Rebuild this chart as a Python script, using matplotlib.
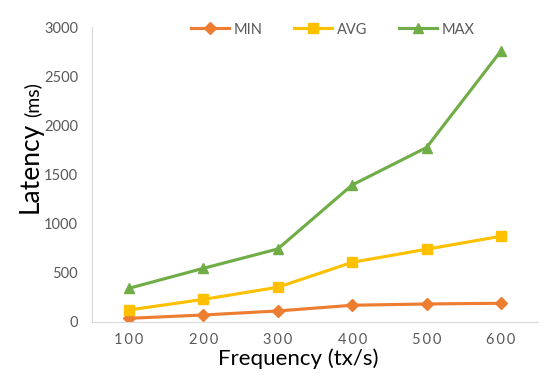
import matplotlib.pyplot as plt
import numpy as np

# data
freq = ['100', '200', '300', '400', '500', '600']
lat_min = [37, 71, 112, 170, 183, 190]
lat_avg = [122, 230, 353, 607, 740, 872]
lat_max = [343, 546, 743, 1394, 1775, 2757]

plt.rcParams['font.family'] = ['Lato', 'DejaVu Sans']

fig = plt.figure(figsize=(5.57, 3.77), dpi=100)
ax = fig.add_axes([0.165, 0.146, 0.801, 0.782])

x = np.arange(len(freq))
ax.plot(x, lat_min, color='#ED7D31', lw=2.25, marker='D', ms=6, label='MIN')
ax.plot(x, lat_avg, color='#FFC000', lw=2.25, marker='s', ms=7.5, label='AVG')
ax.plot(x, lat_max, color='#70AD47', lw=2.25, marker='^', ms=7.5, label='MAX')

ax.set_xlim(-0.5, 5.5)
ax.set_ylim(0, 3000)
ax.set_yticks(range(0, 3001, 500))
ax.set_xticks(x)
# spaced-out tick labels like the original
ax.set_xticklabels(['\u2009'.join(f) for f in freq])
ax.tick_params(axis='both', length=0, colors='#595959', labelsize=10.5)
ax.tick_params(axis='x', pad=8)
ax.tick_params(axis='y', pad=10)

for s in ['top', 'right']:
    ax.spines[s].set_visible(False)
for s in ['left', 'bottom']:
    ax.spines[s].set_color('#d9d9d9')

ax.legend(loc='upper center', bbox_to_anchor=(0.54, 1.06), ncol=3, frameon=False,
          fontsize=10.5, handlelength=2.6, columnspacing=2.2, handletextpad=0.3,
          labelcolor='#595959')

fig.text(298 / 557, 1 - 359 / 377, 'Frequency (tx/s)', fontsize=16,
         ha='center', va='center')

# y label: big "Latency" + small "(ms)" sharing one baseline
W, H = 557, 377
base_x = 38 / W
lat = fig.text(base_x, 1 - 213 / H, 'Latency', fontsize=19, rotation=90,
               rotation_mode='anchor', ha='left', va='baseline')
fig.canvas.draw()
ext = lat.get_window_extent()
fig.text(base_x, (ext.y1 + 5) / H, '(ms)', fontsize=14, rotation=90,
         rotation_mode='anchor', ha='left', va='baseline')

fig.savefig('out.png', dpi=100)
